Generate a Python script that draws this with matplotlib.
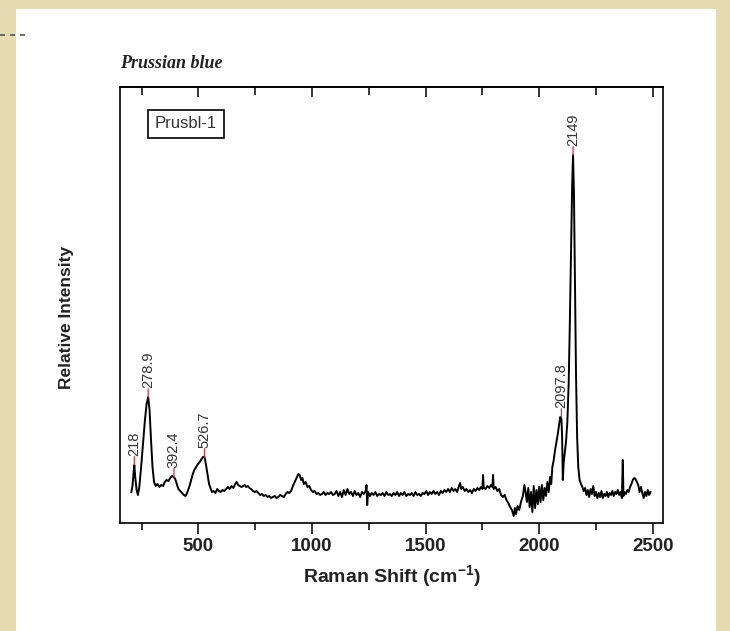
import numpy as np
import matplotlib

matplotlib.use("Agg")
import matplotlib.pyplot as plt
from matplotlib.patches import Rectangle
from matplotlib.lines import Line2D
from matplotlib.ticker import MultipleLocator

plt.rcParams["mathtext.fontset"] = "custom"
plt.rcParams["mathtext.rm"] = "Liberation Sans"
plt.rcParams["mathtext.bf"] = "Liberation Sans:bold"

# Raman spectrum (relative intensity, arbitrary units)
shift = [
    205, 210, 215, 218, 222, 228, 234, 240, 248, 256, 264, 272, 279, 285, 292, 298,
    305, 312, 320, 328, 336, 345, 352, 360, 368, 376, 384, 392, 398, 405, 412, 420,
    428, 436, 443, 450, 458, 466, 474, 482, 490, 498, 506, 514, 520, 527, 533, 540,
    547, 553, 560, 567, 575, 583, 590, 598, 606, 614, 622, 630, 638, 646, 654, 662,
    668, 675, 682, 690, 698, 704, 710, 718, 725, 732, 740, 748, 756, 764, 772, 780,
    788, 796, 804, 812, 820, 828, 836, 844, 852, 860, 868, 876, 884, 892, 900, 908,
    916, 924, 932, 940, 946, 952, 958, 964, 972, 980, 988, 996, 1004, 1012, 1020, 1028,
    1036, 1044, 1052, 1060, 1068, 1076, 1084, 1092, 1100, 1108, 1116, 1124, 1132, 1140,
    1148, 1156, 1164, 1172, 1180, 1188, 1196, 1204, 1212, 1220, 1228, 1236, 1240, 1243,
    1247, 1255, 1263, 1271, 1279, 1287, 1295, 1303, 1311, 1319, 1327, 1335, 1343, 1351,
    1359, 1367, 1375, 1383, 1391, 1399, 1407, 1415, 1423, 1431, 1439, 1447, 1455, 1463,
    1471, 1479, 1487, 1495, 1503, 1511, 1519, 1527, 1535, 1543, 1551, 1559, 1567, 1575,
    1583, 1591, 1599, 1607, 1615, 1623, 1631, 1639, 1647, 1652, 1657, 1664, 1672, 1680,
    1688, 1696, 1704, 1712, 1720, 1728, 1736, 1744, 1750, 1753, 1756, 1764, 1772, 1780,
    1788, 1794, 1797, 1800, 1808, 1816, 1824, 1832, 1840, 1848, 1856, 1864, 1872, 1880,
    1888, 1893, 1898, 1905, 1912, 1920, 1928, 1935, 1940, 1946, 1952, 1958, 1964, 1970,
    1976, 1982, 1988, 1994, 2000, 2006, 2012, 2018, 2024, 2030, 2036, 2042, 2048, 2053,
    2058, 2064, 2070, 2076, 2082, 2088, 2093, 2098, 2101, 2104, 2108, 2113, 2118, 2124,
    2130, 2135, 2140, 2145, 2149, 2153, 2157, 2162, 2167, 2172, 2178, 2184, 2190, 2196,
    2202, 2208, 2214, 2220, 2226, 2232, 2238, 2244, 2250, 2256, 2262, 2268, 2274, 2280,
    2286, 2292, 2298, 2304, 2310, 2316, 2322, 2328, 2334, 2340, 2346, 2352, 2358, 2364,
    2368, 2371, 2376, 2382, 2388, 2394, 2400, 2406, 2412, 2418, 2424, 2430, 2436, 2442,
    2448, 2454, 2460, 2466, 2472, 2478, 2484, 2490,
]
intensity = [
    30, 36, 50, 57, 45, 32, 27, 35, 55, 78, 100, 118, 125, 112, 80, 55,
    40, 36, 38, 35, 37, 36, 40, 42, 41, 44, 46, 45, 43, 38, 33, 31,
    29, 27, 26, 29, 34, 40, 47, 52, 55, 58, 60, 63, 65, 65, 58, 48,
    38, 34, 30, 31, 29, 33, 31, 30, 32, 31, 33, 35, 33, 36, 34, 38,
    40, 37, 36, 35, 36, 37, 35, 36, 34, 33, 31, 30, 31, 29, 27, 28,
    26, 27, 25, 26, 24, 25, 26, 24, 25, 27, 26, 25, 28, 30, 29, 31,
    36, 40, 44, 48, 47, 42, 44, 38, 40, 35, 36, 32, 30, 31, 28, 29,
    27, 28, 30, 27, 29, 28, 30, 27, 28, 31, 26, 30, 25, 32,
    27, 33, 28, 30, 26, 31, 27, 29, 25, 30, 28, 31, 37, 17,
    30, 26, 29, 27, 30, 26, 28, 27, 29, 26, 30, 27, 28, 26,
    29, 27, 30, 26, 29, 27, 30, 26, 28, 27, 29, 26, 30, 27,
    28, 26, 29, 28, 31, 27, 30, 28, 31, 28, 30, 27, 31, 29,
    32, 30, 33, 30, 34, 31, 33, 30, 36, 39, 33, 35, 31, 33,
    30, 32, 29, 33, 31, 34, 32, 35, 33, 47, 34, 33, 36, 34,
    37, 35, 47, 33, 35, 31, 33, 27, 25, 27, 22, 19, 15, 12,
    6, 14, 8, 16, 12, 20, 26, 37, 30, 20, 34, 15, 30, 10,
    36, 14, 32, 18, 35, 20, 37, 22, 34, 26, 40, 30, 45, 38,
    55, 62, 72, 80, 88, 98, 105, 103, 85, 42, 60, 70, 80, 100,
    140, 200, 270, 335, 367, 330, 250, 150, 85, 55, 42, 38, 35, 31,
    34, 27, 32, 25, 33, 28, 36, 26, 30, 24, 29, 25, 31, 24,
    28, 26, 30, 25, 29, 27, 31, 26, 30, 28, 32, 27, 30, 24,
    62, 26, 30, 28, 32, 30, 35, 38, 42, 44, 43, 40, 37, 30,
    35, 29, 24, 30, 26, 32, 27, 30,
]

peak_pos = [218, 278.9, 392.4, 526.7, 2097.8, 2149]
peak_text = ["218", "278.9", "392.4", "526.7", "2097.8", "2149"]

x_major = [500, 1000, 1500, 2000, 2500]

W, H = 730, 631
fig = plt.figure(figsize=(W / 100, H / 100), dpi=100)
fig.patch.set_facecolor("#e6dab0")
# white page on the parchment background
fig.add_artist(Rectangle((16 / W, 0), 700 / W, 622 / H, transform=fig.transFigure,
                         facecolor="white", edgecolor="none", zorder=0))
fig.add_artist(Line2D([0, 28 / W], [1 - 35 / H, 1 - 35 / H], transform=fig.transFigure,
                      color="#555555", lw=1.2, ls=(0, (3, 3))))

ax = fig.add_axes([120 / W, 1 - 523 / H, 543 / W, 436 / H])
ax.set_facecolor("white")

x = np.array(shift)
y = np.array(intensity)
ax.plot(x, y, color="black", lw=1.4)

ax.set_xlim(155, 2545)
ax.set_ylim(-1, 435)
ax.set_yticks([])

ax.set_xticks(x_major)
ax.xaxis.set_minor_locator(MultipleLocator(250))
ax.tick_params(axis="x", which="major", direction="out", length=8, width=1.1,
               labelsize=13.5, pad=3)
ax.tick_params(axis="x", which="minor", direction="out", length=5, width=1.1)
for lab in ax.get_xticklabels():
    lab.set_fontweight("bold")
    lab.set_family("Liberation Sans")
    lab.set_color("#222222")

top = ax.secondary_xaxis("top")
top.set_xticks(x_major)
top.xaxis.set_minor_locator(MultipleLocator(250))
top.tick_params(axis="x", which="major", direction="in", length=7, width=1.1, labeltop=False)
top.tick_params(axis="x", which="minor", direction="in", length=6, width=1.1)
top.spines["top"].set_linewidth(1.2)

for s in ax.spines.values():
    s.set_linewidth(1.2)

ax.set_xlabel("Raman Shift (cm$^{\\mathbf{-1}}$)", fontsize=14, fontweight="bold",
              family="Liberation Sans", color="#222222", labelpad=6)
fig.text(67 / W, 1 - 317 / H, "Relative Intensity", rotation=90, fontsize=12.5,
         fontweight="bold", family="Liberation Sans", color="#222222",
         ha="center", va="center")

fig.text(120 / W, 1 - 63 / H, "Prussian blue", fontsize=13, fontweight="bold",
         style="italic", family="Liberation Serif", color="#222222",
         ha="left", va="center")

fig.text(186 / W, 1 - 124 / H, "Prusbl-1", fontsize=12, family="Liberation Sans",
         color="#333333", ha="center", va="center",
         bbox=dict(boxstyle="square,pad=0.4", facecolor="white", edgecolor="black", lw=1.2))

# peak markers: short red tick above each peak and the rotated value
for px, txt in zip(peak_pos, peak_text):
    near = np.abs(x - px) <= 8
    py = y[near].max()
    ax.annotate("", xy=(px, py), xytext=(0, 6), textcoords="offset points",
                arrowprops=dict(arrowstyle="-", color="#e0303a", lw=0.9,
                                shrinkA=0, shrinkB=0))
    ax.annotate(txt, xy=(px, py), xytext=(0, 6.5), textcoords="offset points",
                rotation=90, ha="center", va="bottom", fontsize=10.5,
                family="Liberation Sans", color="#333333")

fig.savefig("out.png", dpi=100, facecolor=fig.get_facecolor())
